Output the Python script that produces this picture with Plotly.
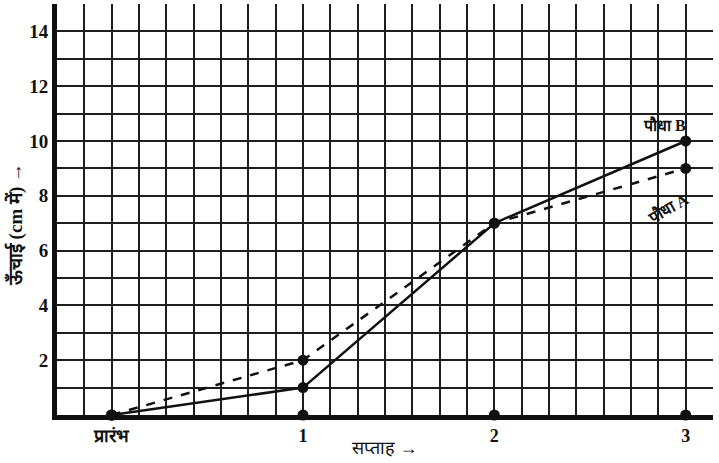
import plotly.graph_objects as go

# données : hauteur des plantes (cm) par semaine
semaines = ['प्रारंभ', '1', '2', '3']
positions = [0, 1, 2, 3]
pousse_a = [0, 2, 7, 9]
pousse_b = [0, 1, 7, 10]
base = [0, 0, 0, 0]
y_ticks = [2, 4, 6, 8, 10, 12, 14]

police = "Liberation Serif, Noto Serif, serif"
noir = '#111111'
grille = '#1e1e1e'

fig = go.Figure()

# plante A : trait pointillé
fig.add_trace(go.Scatter(
    x=positions, y=pousse_a, mode='lines+markers',
    line=dict(color=noir, width=2.5, dash='dash'),
    marker=dict(color=noir, size=11),
    cliponaxis=False, showlegend=False
))

# plante B : trait plein
fig.add_trace(go.Scatter(
    x=positions, y=pousse_b, mode='lines+markers',
    line=dict(color=noir, width=2.5),
    marker=dict(color=noir, size=11),
    cliponaxis=False, showlegend=False
))

# points sur l'axe des semaines
fig.add_trace(go.Scatter(
    x=positions, y=base, mode='markers',
    marker=dict(color=noir, size=11),
    cliponaxis=False, showlegend=False
))

fig.add_annotation(x=2.89, y=10.6, text='<b>पौधा B</b>', showarrow=False,
                   font=dict(family=police, size=16, color=noir))
fig.add_annotation(x=2.91, y=7.55, text='<b>पौधा A</b>', showarrow=False, textangle=-30,
                   font=dict(family=police, size=16, color=noir))

# titres des axes
fig.add_annotation(xref='paper', yref='paper', x=0.5, y=-0.08, text='सप्ताह →',
                   xanchor='center', yanchor='middle',
                   showarrow=False, font=dict(family=police, size=18, color=noir))
fig.add_annotation(xref='paper', yref='paper', x=-0.064, y=0.462, text='<b>ऊँचाई (cm में) →</b>',
                   xanchor='center', yanchor='middle',
                   showarrow=False, textangle=-90, font=dict(family=police, size=19, color=noir))

fig.update_layout(
    width=719, height=463,
    margin=dict(l=57, r=6, t=4, b=48),
    plot_bgcolor='white', paper_bgcolor='white',
    font=dict(family=police, size=16, color=noir),
    xaxis=dict(
        range=[-2 / 7, 3 + 1 / 7], automargin=False,
        tickvals=positions, ticktext=semaines,
        tickfont=dict(family=police, size=18, color=noir, weight='bold'),
        showgrid=True, gridcolor=grille, gridwidth=2,
        minor=dict(dtick=1 / 7, tick0=0, showgrid=True, gridcolor=grille, gridwidth=2),
        showline=True, linecolor=noir, linewidth=5,
        zeroline=False, ticks='', ticklen=0,
    ),
    yaxis=dict(
        range=[0, 15], automargin=False,
        tickvals=y_ticks,
        tickfont=dict(family=police, size=19, color=noir, weight='bold'),
        showgrid=True, gridcolor=grille, gridwidth=2,
        minor=dict(dtick=1, tick0=0, showgrid=True, gridcolor=grille, gridwidth=2),
        showline=True, linecolor=noir, linewidth=5,
        zeroline=False, ticks='', ticklen=0,
    ),
)

# la page a une marge de 8px par défaut : on la retire
fig.write_html("out.html", config={'displayModeBar': False},
               post_script="document.body.style.margin='0';")
